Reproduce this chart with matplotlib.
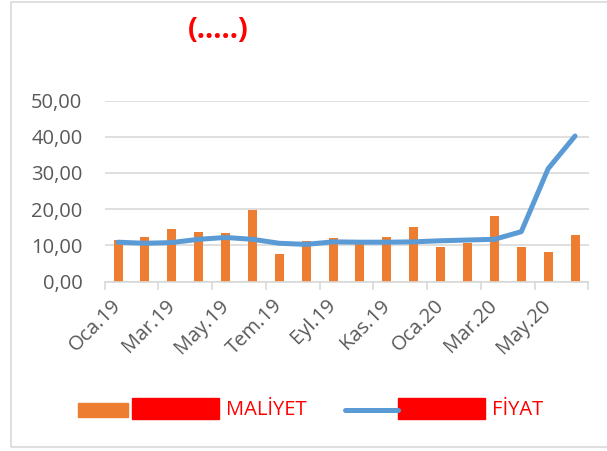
import matplotlib
matplotlib.use("Agg")
import matplotlib.pyplot as plt
from matplotlib.patches import Rectangle
from matplotlib.lines import Line2D
import numpy as np

months = ["Oca.19", "Şub.19", "Mar.19", "Nis.19", "May.19", "Haz.19",
          "Tem.19", "Ağu.19", "Eyl.19", "Eki.19", "Kas.19", "Ara.19",
          "Oca.20", "Şub.20", "Mar.20", "Nis.20", "May.20", "Haz.20"]
maliyet = [11.4, 12.4, 14.5, 13.7, 13.4, 19.7, 7.7, 11.3, 12.1,
           10.6, 12.2, 15.0, 9.6, 10.8, 18.1, 9.6, 8.1, 12.8]
fiyat = [10.9, 10.6, 10.8, 11.7, 12.2, 11.7, 10.6, 10.3, 11.0,
         10.9, 10.9, 11.0, 11.3, 11.5, 11.7, 13.8, 31.2, 40.2]
yticks = [0, 10, 20, 30, 40, 50]
title_text = "(.....)"
legend_bar = "MALİYET"
legend_line = "FİYAT"

W, H = 607, 451
fig = plt.figure(figsize=(W / 100, H / 100), dpi=100)
plt.rcParams['font.family'] = ['Open Sans', 'DejaVu Sans']

def fx(px):
    return px / W

def fy(py):
    return 1 - py / H

# outer border
fig.patches.append(Rectangle((fx(10.5), fy(447)), fx(620) - fx(10.5), fy(2) - fy(447),
                             transform=fig.transFigure, fill=False,
                             edgecolor="#D9D9D9", linewidth=1.2))

ax = fig.add_axes([fx(104.6), fy(281.7), fx(588.5) - fx(104.6), fy(100.5) - fy(281.7)])
x = np.arange(len(months))
ax.bar(x, maliyet, width=0.335, color="#ED7D31", zorder=2)
ax.plot(x, fiyat, color="#5B9BD5", linewidth=3.6, solid_capstyle="round",
        solid_joinstyle="round", zorder=3)

ax.set_xlim(-0.5, len(months) - 0.5)
ax.set_ylim(0, 50)
ax.set_yticks(yticks)
ax.set_yticklabels([f"{v:.2f}".replace(".", ",") for v in yticks])
ax.yaxis.grid(True, color="#D9D9D9", linewidth=1.2, zorder=0)
ax.set_axisbelow(True)
for s in ["top", "right", "left"]:
    ax.spines[s].set_visible(False)
ax.spines["bottom"].set_color("#D9D9D9")
ax.spines["bottom"].set_linewidth(1.2)
ax.tick_params(axis="y", length=0, pad=16, labelsize=14.5, labelcolor="#595959")

ax.set_xticks(x[::2])
ax.set_xticklabels(months[::2], rotation=45, ha="right", va="center",
                   rotation_mode="anchor")
ax.set_xticks(np.arange(-0.5, len(months), 2), minor=True)
ax.tick_params(axis="x", which="major", length=0, pad=15, labelsize=14.5,
               labelcolor="#595959")
ax.tick_params(axis="x", which="minor", length=6, width=1.2, color="#D9D9D9")

# title
fig.text(fx(218), fy(31), title_text, color="red", fontsize=21, fontweight="bold",
         ha="center", va="center")

# legend
fig.patches.append(Rectangle((fx(78), fy(417)), fx(128) - fx(78), fy(403) - fy(417),
                             transform=fig.transFigure, color="#ED7D31"))
fig.patches.append(Rectangle((fx(132), fy(419)), fx(219) - fx(132), fy(398) - fy(419),
                             transform=fig.transFigure, color="#FF0000"))
fig.text(fx(226), fy(410), legend_bar, color="#FF0000", fontsize=14.5,
         ha="left", va="center")
fig.lines.append(Line2D([fx(345), fx(398)], [fy(410), fy(410)], transform=fig.transFigure,
                        color="#5B9BD5", linewidth=3.6, solid_capstyle="round"))
fig.patches.append(Rectangle((fx(398), fy(419)), fx(485) - fx(398), fy(398) - fy(419),
                             transform=fig.transFigure, color="#FF0000"))
fig.text(fx(492), fy(410), legend_line, color="#FF0000", fontsize=14.5,
         ha="left", va="center")

fig.savefig("out.png", dpi=100)
